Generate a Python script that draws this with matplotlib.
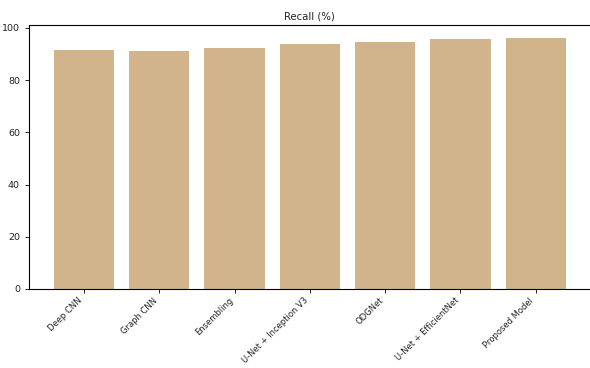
import matplotlib
matplotlib.use("Agg")
import matplotlib.pyplot as plt

models = ["Deep CNN", "Graph CNN", "Ensembling", "U-Net + Inception V3",
          "ODGNet", "U-Net + EfficientNet", "Proposed Model"]
recall = [91.6, 91.0, 92.5, 93.9, 94.8, 95.8, 96.3]

fig = plt.figure(figsize=(5.9, 3.68), dpi=100)
ax = fig.add_axes([0.049, 0.2147, 0.951, 0.7173])
x = list(range(len(models)))
ax.bar(x, recall, width=0.8, color="tan")
ax.set_xlim(-0.73, 6.72)
ax.set_ylim(0, max(recall) * 1.05)
ax.set_xticks(x)
ax.set_xticklabels(models, rotation=45, ha="right", fontsize=6, color="#222222")
ax.set_yticks([0, 20, 40, 60, 80, 100])
ax.tick_params(axis="y", labelsize=6.8, length=3, width=0.6, labelcolor="#222222")
ax.tick_params(axis="x", length=3, width=0.6, pad=2)
ax.spines["right"].set_visible(False)
for s in ["left", "top", "bottom"]:
    ax.spines[s].set_linewidth(0.8)
ax.set_title("Recall (%)", fontsize=7.3, pad=4, color="#222222")
fig.savefig("out.png", dpi=100)
